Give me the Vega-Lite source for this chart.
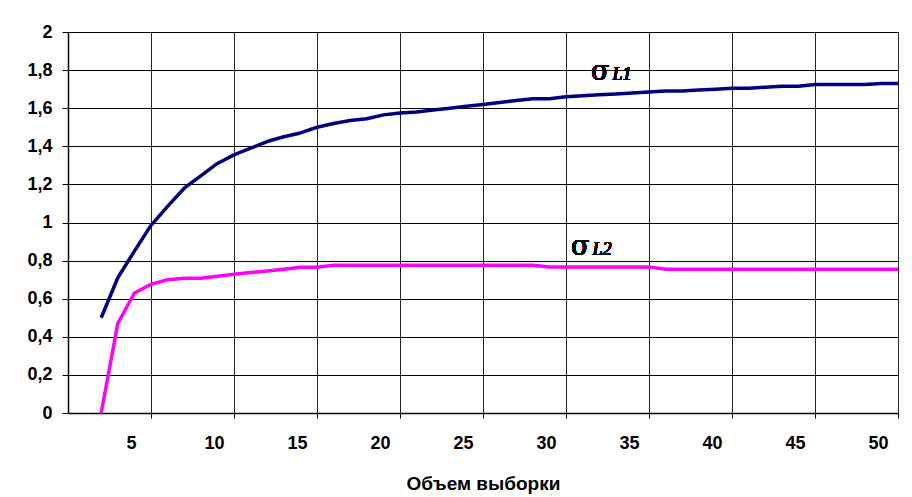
{
  "$schema": "https://vega.github.io/schema/vega-lite/v6.json",
  "width": 830,
  "height": 381,
  "autosize": {"type": "none"},
  "padding": {"left": 68, "top": 32, "right": 14, "bottom": 84},
  "background": "white",
  "config": {
    "view": {"stroke": "black", "strokeWidth": 1},
    "font": "Liberation Sans",
    "axis": {
      "labelOverlap": false,
      "grid": true,
      "gridWidth": 1,
      "gridOpacity": 1,
      "domainColor": "black",
      "domainWidth": 1.5,
      "tickColor": "black",
      "tickWidth": 1,
      "labelFont": "Liberation Sans",
      "labelFontWeight": "bold",
      "labelFontSize": 18,
      "labelColor": "black",
      "titleFont": "Liberation Sans",
      "titleFontWeight": "bold",
      "titleColor": "black"
    },
    "axisX": {
      "gridColor": "#222222",
      "tickSize": 5,
      "labelOffset": -20,
      "labelFlush": false,
      "labelPadding": 16,
      "titleFontSize": 19,
      "titlePadding": 22
    },
    "axisY": {
      "gridColor": "black",
      "tickSize": 6,
      "labelPadding": 10
    }
  },
  "data": {
    "values": [
      {"n": 2, "value": 0.5, "series": "L1"},
      {"n": 3, "value": 0.71, "series": "L1"},
      {"n": 4, "value": 0.85, "series": "L1"},
      {"n": 5, "value": 0.985, "series": "L1"},
      {"n": 6, "value": 1.085, "series": "L1"},
      {"n": 7, "value": 1.18, "series": "L1"},
      {"n": 8, "value": 1.245, "series": "L1"},
      {"n": 9, "value": 1.31, "series": "L1"},
      {"n": 10, "value": 1.355, "series": "L1"},
      {"n": 11, "value": 1.39, "series": "L1"},
      {"n": 12, "value": 1.425, "series": "L1"},
      {"n": 13, "value": 1.45, "series": "L1"},
      {"n": 14, "value": 1.47, "series": "L1"},
      {"n": 15, "value": 1.5, "series": "L1"},
      {"n": 16, "value": 1.52, "series": "L1"},
      {"n": 17, "value": 1.535, "series": "L1"},
      {"n": 18, "value": 1.545, "series": "L1"},
      {"n": 19, "value": 1.565, "series": "L1"},
      {"n": 20, "value": 1.575, "series": "L1"},
      {"n": 21, "value": 1.58, "series": "L1"},
      {"n": 22, "value": 1.59, "series": "L1"},
      {"n": 23, "value": 1.6, "series": "L1"},
      {"n": 24, "value": 1.61, "series": "L1"},
      {"n": 25, "value": 1.62, "series": "L1"},
      {"n": 26, "value": 1.63, "series": "L1"},
      {"n": 27, "value": 1.64, "series": "L1"},
      {"n": 28, "value": 1.65, "series": "L1"},
      {"n": 29, "value": 1.65, "series": "L1"},
      {"n": 30, "value": 1.66, "series": "L1"},
      {"n": 31, "value": 1.665, "series": "L1"},
      {"n": 32, "value": 1.67, "series": "L1"},
      {"n": 33, "value": 1.675, "series": "L1"},
      {"n": 34, "value": 1.68, "series": "L1"},
      {"n": 35, "value": 1.685, "series": "L1"},
      {"n": 36, "value": 1.69, "series": "L1"},
      {"n": 37, "value": 1.69, "series": "L1"},
      {"n": 38, "value": 1.695, "series": "L1"},
      {"n": 39, "value": 1.7, "series": "L1"},
      {"n": 40, "value": 1.705, "series": "L1"},
      {"n": 41, "value": 1.705, "series": "L1"},
      {"n": 42, "value": 1.71, "series": "L1"},
      {"n": 43, "value": 1.715, "series": "L1"},
      {"n": 44, "value": 1.715, "series": "L1"},
      {"n": 45, "value": 1.725, "series": "L1"},
      {"n": 46, "value": 1.725, "series": "L1"},
      {"n": 47, "value": 1.725, "series": "L1"},
      {"n": 48, "value": 1.725, "series": "L1"},
      {"n": 49, "value": 1.73, "series": "L1"},
      {"n": 50, "value": 1.73, "series": "L1"},
      {"n": 2, "value": 0, "series": "L2"},
      {"n": 3, "value": 0.47, "series": "L2"},
      {"n": 4, "value": 0.63, "series": "L2"},
      {"n": 5, "value": 0.675, "series": "L2"},
      {"n": 6, "value": 0.7, "series": "L2"},
      {"n": 7, "value": 0.707, "series": "L2"},
      {"n": 8, "value": 0.707, "series": "L2"},
      {"n": 9, "value": 0.718, "series": "L2"},
      {"n": 10, "value": 0.728, "series": "L2"},
      {"n": 11, "value": 0.737, "series": "L2"},
      {"n": 12, "value": 0.745, "series": "L2"},
      {"n": 13, "value": 0.755, "series": "L2"},
      {"n": 14, "value": 0.765, "series": "L2"},
      {"n": 15, "value": 0.765, "series": "L2"},
      {"n": 16, "value": 0.776, "series": "L2"},
      {"n": 17, "value": 0.776, "series": "L2"},
      {"n": 18, "value": 0.776, "series": "L2"},
      {"n": 19, "value": 0.776, "series": "L2"},
      {"n": 20, "value": 0.776, "series": "L2"},
      {"n": 21, "value": 0.776, "series": "L2"},
      {"n": 22, "value": 0.776, "series": "L2"},
      {"n": 23, "value": 0.776, "series": "L2"},
      {"n": 24, "value": 0.776, "series": "L2"},
      {"n": 25, "value": 0.776, "series": "L2"},
      {"n": 26, "value": 0.776, "series": "L2"},
      {"n": 27, "value": 0.776, "series": "L2"},
      {"n": 28, "value": 0.776, "series": "L2"},
      {"n": 29, "value": 0.767, "series": "L2"},
      {"n": 30, "value": 0.767, "series": "L2"},
      {"n": 31, "value": 0.767, "series": "L2"},
      {"n": 32, "value": 0.767, "series": "L2"},
      {"n": 33, "value": 0.767, "series": "L2"},
      {"n": 34, "value": 0.767, "series": "L2"},
      {"n": 35, "value": 0.767, "series": "L2"},
      {"n": 36, "value": 0.755, "series": "L2"},
      {"n": 37, "value": 0.755, "series": "L2"},
      {"n": 38, "value": 0.755, "series": "L2"},
      {"n": 39, "value": 0.755, "series": "L2"},
      {"n": 40, "value": 0.755, "series": "L2"},
      {"n": 41, "value": 0.755, "series": "L2"},
      {"n": 42, "value": 0.755, "series": "L2"},
      {"n": 43, "value": 0.755, "series": "L2"},
      {"n": 44, "value": 0.755, "series": "L2"},
      {"n": 45, "value": 0.755, "series": "L2"},
      {"n": 46, "value": 0.755, "series": "L2"},
      {"n": 47, "value": 0.755, "series": "L2"},
      {"n": 48, "value": 0.755, "series": "L2"},
      {"n": 49, "value": 0.755, "series": "L2"},
      {"n": 50, "value": 0.755, "series": "L2"}
    ]
  },
  "layer": [
    {
      "mark": {"type": "line", "strokeWidth": 3.5, "strokeJoin": "round"},
      "encoding": {
        "x": {
          "field": "n",
          "type": "quantitative",
          "scale": {"domain": [0, 50], "nice": false, "zero": false},
          "axis": {"values": [5, 10, 15, 20, 25, 30, 35, 40, 45, 50], "title": "Объем выборки"}
        },
        "y": {
          "field": "value",
          "type": "quantitative",
          "scale": {"domain": [0, 2], "nice": false},
          "axis": {
            "values": [0, 0.2, 0.4, 0.6, 0.8, 1, 1.2, 1.4, 1.6, 1.8, 2],
            "format": ".1~f",
            "labelExpr": "replace(datum.label, '.', ',')",
            "title": null
          }
        },
        "color": {
          "field": "series",
          "type": "nominal",
          "scale": {"domain": ["L1", "L2"], "range": ["#000080", "#FF00FF"]},
          "legend": null
        }
      }
    },
    {
      "mark": {"type": "text", "text": "σ", "font": "DejaVu Serif", "fontSize": 27, "fontWeight": "normal", "align": "left", "baseline": "alphabetic", "fill": "black"},
      "encoding": {
        "x": {"datum": 31.5, "type": "quantitative", "axis": {"values": [5, 10, 15, 20, 25, 30, 35, 40, 45, 50], "title": "Объем выборки"}},
        "y": {"datum": 1.75, "type": "quantitative", "axis": {"values": [0, 0.2, 0.4, 0.6, 0.8, 1, 1.2, 1.4, 1.6, 1.8, 2], "format": ".1~f", "labelExpr": "replace(datum.label, '.', ',')", "title": null}}
      }
    },
    {
      "mark": {"type": "text", "text": "L1", "font": "Liberation Serif", "fontStyle": "italic", "fontWeight": "normal", "fontSize": 18, "align": "left", "baseline": "alphabetic", "fill": "black"},
      "encoding": {
        "x": {"datum": 32.8, "type": "quantitative", "axis": {"values": [5, 10, 15, 20, 25, 30, 35, 40, 45, 50], "title": "Объем выборки"}},
        "y": {"datum": 1.75, "type": "quantitative", "axis": {"values": [0, 0.2, 0.4, 0.6, 0.8, 1, 1.2, 1.4, 1.6, 1.8, 2], "format": ".1~f", "labelExpr": "replace(datum.label, '.', ',')", "title": null}}
      }
    },
    {
      "mark": {"type": "text", "text": "σ", "font": "DejaVu Serif", "fontSize": 27, "fontWeight": "normal", "align": "left", "baseline": "alphabetic", "fill": "black"},
      "encoding": {
        "x": {"datum": 30.3, "type": "quantitative", "axis": {"values": [5, 10, 15, 20, 25, 30, 35, 40, 45, 50], "title": "Объем выборки"}},
        "y": {"datum": 0.83, "type": "quantitative", "axis": {"values": [0, 0.2, 0.4, 0.6, 0.8, 1, 1.2, 1.4, 1.6, 1.8, 2], "format": ".1~f", "labelExpr": "replace(datum.label, '.', ',')", "title": null}}
      }
    },
    {
      "mark": {"type": "text", "text": "L2", "font": "Liberation Serif", "fontStyle": "italic", "fontWeight": "normal", "fontSize": 18, "align": "left", "baseline": "alphabetic", "fill": "black"},
      "encoding": {
        "x": {"datum": 31.6, "type": "quantitative", "axis": {"values": [5, 10, 15, 20, 25, 30, 35, 40, 45, 50], "title": "Объем выборки"}},
        "y": {"datum": 0.83, "type": "quantitative", "axis": {"values": [0, 0.2, 0.4, 0.6, 0.8, 1, 1.2, 1.4, 1.6, 1.8, 2], "format": ".1~f", "labelExpr": "replace(datum.label, '.', ',')", "title": null}}
      }
    }
  ]
}
